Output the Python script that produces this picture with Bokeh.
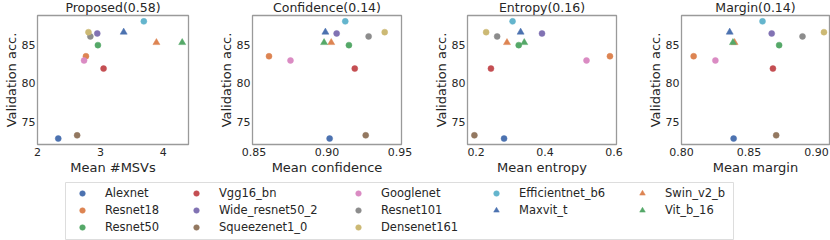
from bokeh.plotting import figure
from bokeh.layouts import row, column
from bokeh.models import Range1d, FixedTicker, Legend, LegendItem, NumeralTickFormatter
from bokeh.embed import file_html
from bokeh.resources import INLINE

# ---------------- data ----------------
models = ["Alexnet", "Resnet18", "Resnet50", "Vgg16_bn", "Wide_resnet50_2",
          "Squeezenet1_0", "Googlenet", "Resnet101", "Densenet161",
          "Efficientnet_b6", "Maxvit_t", "Swin_v2_b", "Vit_b_16"]
markers = ["circle"] * 10 + ["triangle"] * 3
colors = ["#4C72B0", "#DD8452", "#55A868", "#C44E52", "#8172B3", "#937860",
          "#DA8BC3", "#8C8C8C", "#CCB974", "#64B5CD", "#4C72B0", "#DD8452", "#55A868"]
val_acc = [72.81, 83.48, 84.92, 81.88, 86.43, 73.23, 82.93, 86.05, 86.60, 88.00, 86.60, 85.25, 85.25]
mean_msvs = [2.33, 2.77, 2.96, 3.05, 2.95, 2.63, 2.74, 2.84, 2.81, 3.69, 3.37, 3.89, 4.30]
mean_conf = [0.9018, 0.8603, 0.9150, 0.9190, 0.9066, 0.9265, 0.8750, 0.9285, 0.9395, 0.9125, 0.8989, 0.9029, 0.8980]
mean_entropy = [0.281, 0.588, 0.3235, 0.243, 0.391, 0.195, 0.520, 0.261, 0.229, 0.3056, 0.329, 0.2895, 0.3396]
mean_margin = [0.8386, 0.8090, 0.8723, 0.8677, 0.8668, 0.8701, 0.8251, 0.8896, 0.9055, 0.8600, 0.8357, 0.8393, 0.8381]

titles = ["Proposed(0.58)", "Confidence(0.14)", "Entropy(0.16)", "Margin(0.14)"]
xlabels = ["Mean #MSVs", "Mean confidence", "Mean entropy", "Mean margin"]
ylabel = "Validation acc."
x_ticks = [[2, 3, 4], [0.85, 0.90, 0.95], [0.2, 0.4, 0.6], [0.80, 0.85, 0.90]]
x_tick_formats = ["0", "0.00", "0.0", "0.00"]
x_limits = [(2.0, 4.40), (0.849, 0.951), (0.175, 0.607), (0.80, 0.9096)]
y_ticks = [75, 80, 85]
y_limits = (72.04, 88.76)
x_series = [mean_msvs, mean_conf, mean_entropy, mean_margin]

# ---------------- layout params ----------------
FONT = "DejaVu Sans"
TXT = "#262626"
ROW_H = 177
fig_w = [215, 215, 214, 186]
b_left = [34, 33, 33, 33]
b_right = [27, 29, 28, 1]

panels = []
for i in range(4):
    p = figure(width=fig_w[i], height=ROW_H, output_backend="svg", toolbar_location=None,
               x_range=Range1d(*x_limits[i]), y_range=Range1d(*y_limits),
               min_border_left=b_left[i], min_border_right=b_right[i],
               min_border_top=0, min_border_bottom=32, title=titles[i])
    p.title.align = "center"
    p.title.vertical_align = "top"
    p.title.text_font = FONT
    p.title.text_font_size = "12.5px"
    p.title.text_font_style = "normal"
    p.title.text_color = TXT
    try:
        p.title.standoff = -2
    except Exception:
        p.title.standoff = 0
    p.grid.visible = False
    p.outline_line_color = "#9a9a9a"
    p.outline_line_width = 1.3
    p.outline_line_alpha = 1.0
    p.background_fill_color = "white"
    p.border_fill_color = "white"
    for ax in (p.xaxis[0], p.yaxis[0]):
        ax.axis_line_color = None
        ax.major_tick_line_color = None
        ax.minor_tick_line_color = None
        ax.major_tick_out = 0
        ax.major_tick_in = 0
        ax.major_label_text_font = FONT
        ax.major_label_text_font_size = "11px"
        ax.major_label_text_color = TXT
        ax.major_label_standoff = 2
        ax.axis_label_text_font = FONT
        ax.axis_label_text_font_size = "13px"
        ax.axis_label_text_font_style = "normal"
        ax.axis_label_text_color = TXT
        ax.axis_label_standoff = 0
    p.xaxis.major_label_standoff = 3
    p.xaxis.axis_label_standoff = 1
    p.xaxis.ticker = FixedTicker(ticks=x_ticks[i])
    p.xaxis.formatter = NumeralTickFormatter(format=x_tick_formats[i])
    p.yaxis.ticker = FixedTicker(ticks=y_ticks)
    p.xaxis.axis_label = xlabels[i]
    p.yaxis.axis_label = ylabel
    xs = x_series[i]
    for j in range(len(models)):
        p.scatter(x=[xs[j]], y=[val_acc[j]], marker=markers[j],
                  size=6 if markers[j] == "circle" else 7,
                  fill_color=colors[j], line_color=colors[j], line_width=0.5)
    panels.append(p)

# ---------------- legend figure ----------------
leg = figure(width=830, height=63, output_backend="svg", toolbar_location=None,
             x_range=Range1d(0, 1), y_range=Range1d(0, 1),
             min_border_left=65, min_border_right=97, min_border_top=5, min_border_bottom=1)
leg.axis.visible = False
leg.grid.visible = False
leg.outline_line_color = "#dddddd"
leg.outline_line_width = 1.0

renderers = []
for j in range(len(models)):
    # legend proxies: placed outside the visible range, only their glyph style is used
    r = leg.scatter(x=[-10], y=[-10], marker=markers[j], size=5.5 if markers[j] == "circle" else 6.5,
                    fill_color=colors[j], line_color=colors[j], line_width=0.5)
    renderers.append(r)

col_groups = [[0, 1, 2], [3, 4, 5], [6, 7, 8], [9, 10], [11, 12]]
col_x = [10, 124, 286, 424, 570]
FRAME_H = 57
for g, cx in zip(col_groups, col_x):
    n = len(g)
    h = n * 14 + (n - 1) * 3
    y0 = FRAME_H - 3.7 - h
    L = Legend(items=[LegendItem(label=models[k], renderers=[renderers[k]]) for k in g],
               location=(cx, y0), orientation="vertical",
               border_line_color=None, background_fill_alpha=0,
               padding=0, margin=0, spacing=3,
               glyph_width=14, glyph_height=14, label_height=14, label_width=10,
               label_standoff=16, label_text_font=FONT, label_text_font_size="11.5px",
               label_text_color=TXT)
    leg.add_layout(L, "center")

layout = column(row(*panels), leg)
open("out.html", "w").write(file_html(layout, INLINE))
